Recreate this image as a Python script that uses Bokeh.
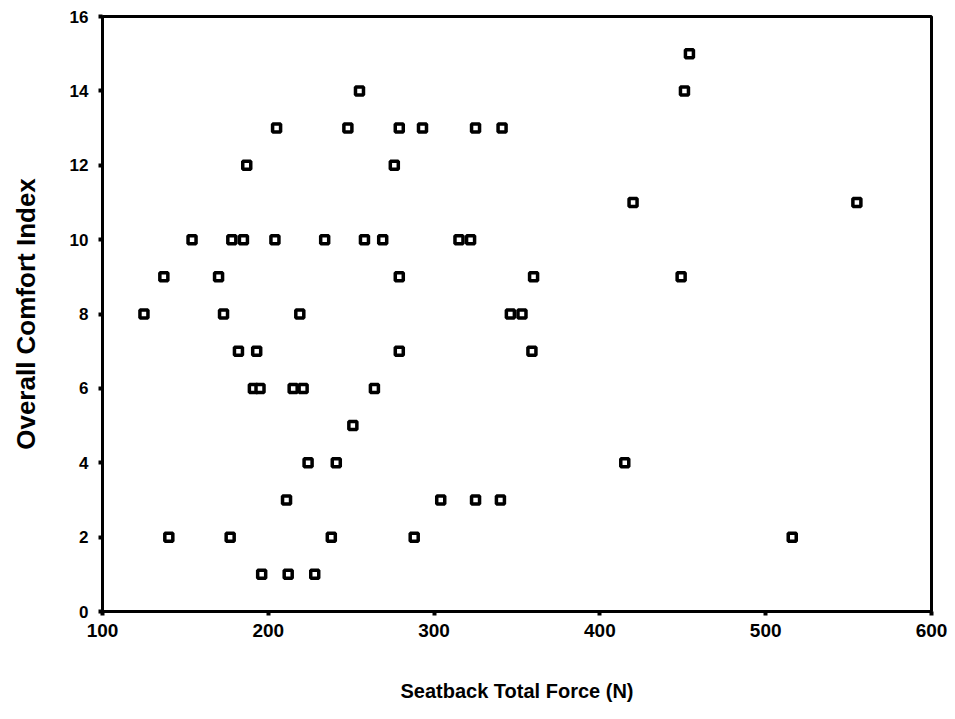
from bokeh.plotting import figure
from bokeh.models import Range1d, FixedTicker, ColumnDataSource
from bokeh.embed import file_html
from bokeh.resources import INLINE

# Data: Seatback Total Force (N) vs Overall Comfort Index
force = [454,
         255, 451,
         205, 248, 279, 293, 325, 341,
         187, 276,
         420, 555,
         154, 178, 185, 204, 234, 258, 269, 315, 322,
         137, 170, 279, 360, 449,
         125, 173, 219, 346, 353,
         182, 193, 279, 359,
         191, 195, 215, 221, 264,
         251,
         224, 241, 415,
         211, 304, 325, 340,
         140, 177, 238, 288, 516,
         196, 212, 228]
comfort = [15,
           14, 14,
           13, 13, 13, 13, 13, 13,
           12, 12,
           11, 11,
           10, 10, 10, 10, 10, 10, 10, 10, 10,
           9, 9, 9, 9, 9,
           8, 8, 8, 8, 8,
           7, 7, 7, 7,
           6, 6, 6, 6, 6,
           5,
           4, 4, 4,
           3, 3, 3, 3,
           2, 2, 2, 2, 2,
           1, 1, 1]

x_ticks = [100, 200, 300, 400, 500, 600]
y_ticks = [0, 2, 4, 6, 8, 10, 12, 14, 16]

src = ColumnDataSource(data=dict(x=force, y=comfort))

W, H = 950, 712
p = figure(width=W, height=H, output_backend="svg", toolbar_location=None,
           x_range=Range1d(100, 600), y_range=Range1d(0, 16),
           min_border_left=102, min_border_top=16, min_border_right=W - 931,
           min_border_bottom=H - 611)

p.scatter("x", "y", source=src, marker="square", size=8,
          fill_color="white", line_color="black", line_width=3.5)

p.xgrid.visible = False
p.ygrid.visible = False
p.background_fill_color = "white"
p.border_fill_color = "white"
p.outline_line_color = "black"
p.outline_line_width = 3
p.outline_line_alpha = 1.0

p.xaxis.ticker = FixedTicker(ticks=x_ticks)
p.yaxis.ticker = FixedTicker(ticks=y_ticks)

for ax in (p.xaxis[0], p.yaxis[0]):
    ax.axis_line_color = "black"
    ax.axis_line_width = 3
    ax.major_tick_line_color = "black"
    ax.major_tick_line_width = 4
    ax.major_tick_in = 0
    ax.major_tick_out = 4
    ax.minor_tick_line_color = None
    ax.major_label_text_font = "Liberation Sans"
    ax.major_label_text_font_style = "bold"
    ax.major_label_text_color = "black"
    ax.axis_label_text_font = "Liberation Sans"
    ax.axis_label_text_color = "black"

p.xaxis.major_label_text_font_size = "19px"
p.yaxis.major_label_text_font_size = "17px"
p.xaxis.major_label_standoff = 8
p.yaxis.major_label_standoff = 10

p.xaxis.axis_label = "Seatback Total Force (N)"
p.xaxis.axis_label_text_font_size = "20px"
p.xaxis.axis_label_text_font_style = "bold"
p.xaxis.axis_label_standoff = 40

p.yaxis.axis_label = "Overall Comfort Index"
p.yaxis.axis_label_text_font_size = "26px"
p.yaxis.axis_label_text_font_style = "bold"
p.yaxis.axis_label_standoff = 26

open("out.html", "w").write(file_html(p, INLINE))
